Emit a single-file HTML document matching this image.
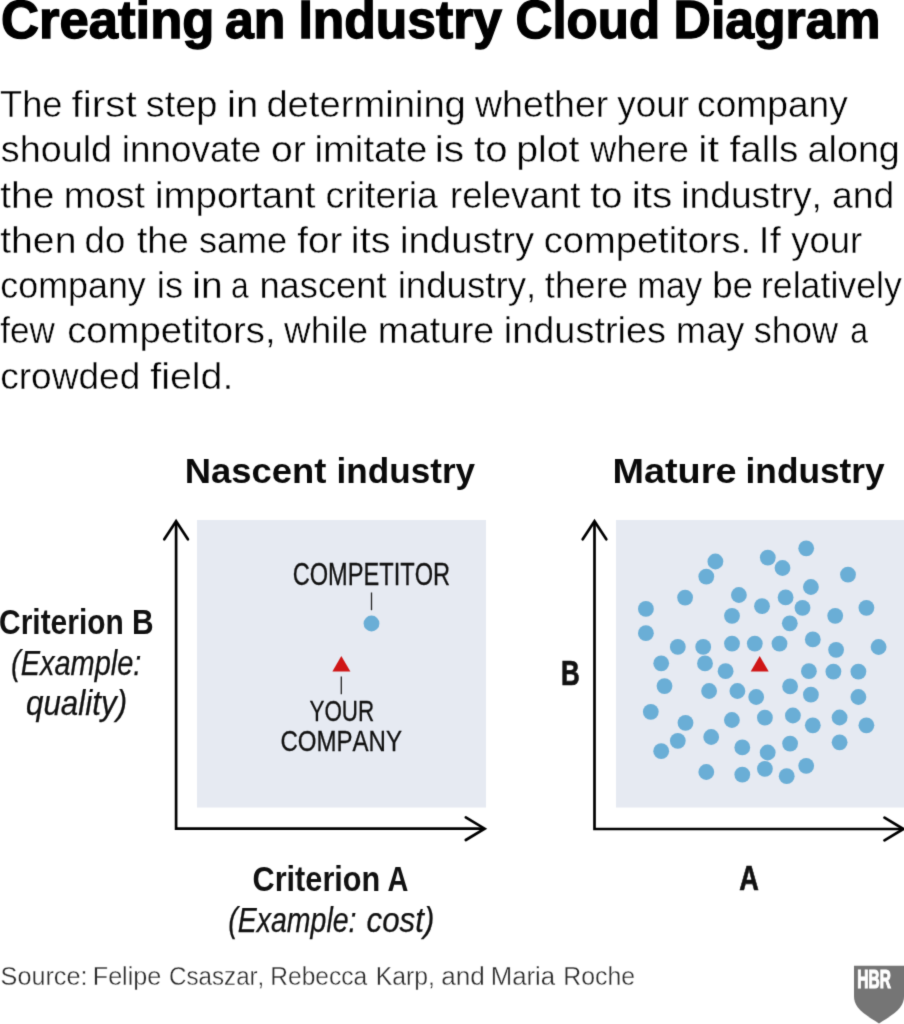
<!DOCTYPE html>
<html><head><meta charset="utf-8"><title>Creating an Industry Cloud Diagram</title>
<style>
html,body{margin:0;padding:0;background:#fff;}
body{width:904px;height:1024px;overflow:hidden;font-family:"Liberation Sans",sans-serif;}
svg{display:block;font-family:"Liberation Sans",sans-serif;font-kerning:none;}
text{font-kerning:none;white-space:pre;}
</style></head><body>
<svg width="904" height="1024" viewBox="0 0 904 1024">
<defs><filter id="soft" x="0" y="0" width="904" height="1024" filterUnits="userSpaceOnUse" color-interpolation-filters="sRGB"><feConvolveMatrix order="3" kernelMatrix="0.01563 0.09375 0.01563 0.09375 0.5625 0.09375 0.01563 0.09375 0.01563" edgeMode="duplicate" preserveAlpha="true"/></filter></defs>
<g filter="url(#soft)">
<rect width="904" height="1024" fill="#fff"/>
<text x="1.04" y="38.3" font-size="53" font-weight="bold" font-style="normal" fill="#000" textLength="213.38" lengthAdjust="spacingAndGlyphs" stroke="#000" stroke-width="1.4">Creating</text>
<text x="225.08" y="38.3" font-size="53" font-weight="bold" font-style="normal" fill="#000" textLength="60.43" lengthAdjust="spacingAndGlyphs" stroke="#000" stroke-width="1.4">an</text>
<text x="298.45" y="38.3" font-size="53" font-weight="bold" font-style="normal" fill="#000" textLength="203.53" lengthAdjust="spacingAndGlyphs" stroke="#000" stroke-width="1.4">Industry</text>
<text x="515.61" y="38.3" font-size="53" font-weight="bold" font-style="normal" fill="#000" textLength="144.45" lengthAdjust="spacingAndGlyphs" stroke="#000" stroke-width="1.4">Cloud</text>
<text x="673.54" y="38.3" font-size="53" font-weight="bold" font-style="normal" fill="#000" textLength="206.97" lengthAdjust="spacingAndGlyphs" stroke="#000" stroke-width="1.4">Diagram</text>
<text x="-0.02" y="117.1" font-size="37" font-weight="normal" font-style="normal" fill="#000" textLength="62.53" lengthAdjust="spacingAndGlyphs" stroke="#fff" stroke-width="0.4">The</text>
<text x="71.63" y="117.1" font-size="37" font-weight="normal" font-style="normal" fill="#000" textLength="64.97" lengthAdjust="spacingAndGlyphs" stroke="#fff" stroke-width="0.4">first</text>
<text x="145.74" y="117.1" font-size="37" font-weight="normal" font-style="normal" fill="#000" textLength="71.75" lengthAdjust="spacingAndGlyphs" stroke="#fff" stroke-width="0.4">step</text>
<text x="227.11" y="117.1" font-size="37" font-weight="normal" font-style="normal" fill="#000" textLength="31.30" lengthAdjust="spacingAndGlyphs" stroke="#fff" stroke-width="0.4">in</text>
<text x="266.40" y="117.1" font-size="37" font-weight="normal" font-style="normal" fill="#000" textLength="199.46" lengthAdjust="spacingAndGlyphs" stroke="#fff" stroke-width="0.4">determining</text>
<text x="475.05" y="117.1" font-size="37" font-weight="normal" font-style="normal" fill="#000" textLength="133.17" lengthAdjust="spacingAndGlyphs" stroke="#fff" stroke-width="0.4">whether</text>
<text x="617.21" y="117.1" font-size="37" font-weight="normal" font-style="normal" fill="#000" textLength="71.90" lengthAdjust="spacingAndGlyphs" stroke="#fff" stroke-width="0.4">your</text>
<text x="697.12" y="117.1" font-size="37" font-weight="normal" font-style="normal" fill="#000" textLength="150.65" lengthAdjust="spacingAndGlyphs" stroke="#fff" stroke-width="0.4">company</text>
<text x="0.75" y="162.3" font-size="37" font-weight="normal" font-style="normal" fill="#000" textLength="111.39" lengthAdjust="spacingAndGlyphs" stroke="#fff" stroke-width="0.4">should</text>
<text x="121.83" y="162.3" font-size="37" font-weight="normal" font-style="normal" fill="#000" textLength="139.51" lengthAdjust="spacingAndGlyphs" stroke="#fff" stroke-width="0.4">innovate</text>
<text x="270.96" y="162.3" font-size="37" font-weight="normal" font-style="normal" fill="#000" textLength="34.79" lengthAdjust="spacingAndGlyphs" stroke="#fff" stroke-width="0.4">or</text>
<text x="314.44" y="162.3" font-size="37" font-weight="normal" font-style="normal" fill="#000" textLength="112.87" lengthAdjust="spacingAndGlyphs" stroke="#fff" stroke-width="0.4">imitate</text>
<text x="434.77" y="162.3" font-size="37" font-weight="normal" font-style="normal" fill="#000" textLength="29.51" lengthAdjust="spacingAndGlyphs" stroke="#fff" stroke-width="0.4">is</text>
<text x="474.09" y="162.3" font-size="37" font-weight="normal" font-style="normal" fill="#000" textLength="33.49" lengthAdjust="spacingAndGlyphs" stroke="#fff" stroke-width="0.4">to</text>
<text x="516.27" y="162.3" font-size="37" font-weight="normal" font-style="normal" fill="#000" textLength="63.21" lengthAdjust="spacingAndGlyphs" stroke="#fff" stroke-width="0.4">plot</text>
<text x="590.35" y="162.3" font-size="37" font-weight="normal" font-style="normal" fill="#000" textLength="98.45" lengthAdjust="spacingAndGlyphs" stroke="#fff" stroke-width="0.4">where</text>
<text x="698.22" y="162.3" font-size="37" font-weight="normal" font-style="normal" fill="#000" textLength="20.79" lengthAdjust="spacingAndGlyphs" stroke="#fff" stroke-width="0.4">it</text>
<text x="729.45" y="162.3" font-size="37" font-weight="normal" font-style="normal" fill="#000" textLength="68.95" lengthAdjust="spacingAndGlyphs" stroke="#fff" stroke-width="0.4">falls</text>
<text x="807.60" y="162.3" font-size="37" font-weight="normal" font-style="normal" fill="#000" textLength="92.23" lengthAdjust="spacingAndGlyphs" stroke="#fff" stroke-width="0.4">along</text>
<text x="0.21" y="207.6" font-size="37" font-weight="normal" font-style="normal" fill="#000" textLength="54.12" lengthAdjust="spacingAndGlyphs" stroke="#fff" stroke-width="0.4">the</text>
<text x="63.71" y="207.6" font-size="37" font-weight="normal" font-style="normal" fill="#000" textLength="81.16" lengthAdjust="spacingAndGlyphs" stroke="#fff" stroke-width="0.4">most</text>
<text x="154.93" y="207.6" font-size="37" font-weight="normal" font-style="normal" fill="#000" textLength="160.46" lengthAdjust="spacingAndGlyphs" stroke="#fff" stroke-width="0.4">important</text>
<text x="325.41" y="207.6" font-size="37" font-weight="normal" font-style="normal" fill="#000" textLength="112.49" lengthAdjust="spacingAndGlyphs" stroke="#fff" stroke-width="0.4">criteria</text>
<text x="449.96" y="207.6" font-size="37" font-weight="normal" font-style="normal" fill="#000" textLength="130.50" lengthAdjust="spacingAndGlyphs" stroke="#fff" stroke-width="0.4">relevant</text>
<text x="590.22" y="207.6" font-size="37" font-weight="normal" font-style="normal" fill="#000" textLength="31.99" lengthAdjust="spacingAndGlyphs" stroke="#fff" stroke-width="0.4">to</text>
<text x="631.68" y="207.6" font-size="37" font-weight="normal" font-style="normal" fill="#000" textLength="40.69" lengthAdjust="spacingAndGlyphs" stroke="#fff" stroke-width="0.4">its</text>
<text x="681.21" y="207.6" font-size="37" font-weight="normal" font-style="normal" fill="#000" textLength="140.74" lengthAdjust="spacingAndGlyphs" stroke="#fff" stroke-width="0.4">industry,</text>
<text x="832.01" y="207.6" font-size="37" font-weight="normal" font-style="normal" fill="#000" textLength="62.40" lengthAdjust="spacingAndGlyphs" stroke="#fff" stroke-width="0.4">and</text>
<text x="0.21" y="252.8" font-size="37" font-weight="normal" font-style="normal" fill="#000" textLength="76.24" lengthAdjust="spacingAndGlyphs" stroke="#fff" stroke-width="0.4">then</text>
<text x="84.56" y="252.8" font-size="37" font-weight="normal" font-style="normal" fill="#000" textLength="40.67" lengthAdjust="spacingAndGlyphs" stroke="#fff" stroke-width="0.4">do</text>
<text x="136.94" y="252.8" font-size="37" font-weight="normal" font-style="normal" fill="#000" textLength="51.82" lengthAdjust="spacingAndGlyphs" stroke="#fff" stroke-width="0.4">the</text>
<text x="198.89" y="252.8" font-size="37" font-weight="normal" font-style="normal" fill="#000" textLength="88.31" lengthAdjust="spacingAndGlyphs" stroke="#fff" stroke-width="0.4">same</text>
<text x="297.25" y="252.8" font-size="37" font-weight="normal" font-style="normal" fill="#000" textLength="44.99" lengthAdjust="spacingAndGlyphs" stroke="#fff" stroke-width="0.4">for</text>
<text x="350.85" y="252.8" font-size="37" font-weight="normal" font-style="normal" fill="#000" textLength="39.69" lengthAdjust="spacingAndGlyphs" stroke="#fff" stroke-width="0.4">its</text>
<text x="400.04" y="252.8" font-size="37" font-weight="normal" font-style="normal" fill="#000" textLength="134.14" lengthAdjust="spacingAndGlyphs" stroke="#fff" stroke-width="0.4">industry</text>
<text x="543.78" y="252.8" font-size="37" font-weight="normal" font-style="normal" fill="#000" textLength="207.39" lengthAdjust="spacingAndGlyphs" stroke="#fff" stroke-width="0.4">competitors.</text>
<text x="758.61" y="252.8" font-size="37" font-weight="normal" font-style="normal" fill="#000" textLength="22.23" lengthAdjust="spacingAndGlyphs" stroke="#fff" stroke-width="0.4">If</text>
<text x="791.21" y="252.8" font-size="37" font-weight="normal" font-style="normal" fill="#000" textLength="70.89" lengthAdjust="spacingAndGlyphs" stroke="#fff" stroke-width="0.4">your</text>
<text x="0.28" y="298.0" font-size="37" font-weight="normal" font-style="normal" fill="#000" textLength="145.49" lengthAdjust="spacingAndGlyphs" stroke="#fff" stroke-width="0.4">company</text>
<text x="156.87" y="298.0" font-size="37" font-weight="normal" font-style="normal" fill="#000" textLength="26.24" lengthAdjust="spacingAndGlyphs" stroke="#fff" stroke-width="0.4">is</text>
<text x="192.39" y="298.0" font-size="37" font-weight="normal" font-style="normal" fill="#000" textLength="30.34" lengthAdjust="spacingAndGlyphs" stroke="#fff" stroke-width="0.4">in</text>
<text x="230.95" y="298.0" font-size="37" font-weight="normal" font-style="normal" fill="#000" textLength="17.65" lengthAdjust="spacingAndGlyphs" stroke="#fff" stroke-width="0.4">a</text>
<text x="259.39" y="298.0" font-size="37" font-weight="normal" font-style="normal" fill="#000" textLength="127.18" lengthAdjust="spacingAndGlyphs" stroke="#fff" stroke-width="0.4">nascent</text>
<text x="397.65" y="298.0" font-size="37" font-weight="normal" font-style="normal" fill="#000" textLength="138.65" lengthAdjust="spacingAndGlyphs" stroke="#fff" stroke-width="0.4">industry,</text>
<text x="544.85" y="298.0" font-size="37" font-weight="normal" font-style="normal" fill="#000" textLength="83.28" lengthAdjust="spacingAndGlyphs" stroke="#fff" stroke-width="0.4">there</text>
<text x="637.21" y="298.0" font-size="37" font-weight="normal" font-style="normal" fill="#000" textLength="65.05" lengthAdjust="spacingAndGlyphs" stroke="#fff" stroke-width="0.4">may</text>
<text x="712.13" y="298.0" font-size="37" font-weight="normal" font-style="normal" fill="#000" textLength="40.90" lengthAdjust="spacingAndGlyphs" stroke="#fff" stroke-width="0.4">be</text>
<text x="760.93" y="298.0" font-size="37" font-weight="normal" font-style="normal" fill="#000" textLength="140.94" lengthAdjust="spacingAndGlyphs" stroke="#fff" stroke-width="0.4">relatively</text>
<text x="0.30" y="343.2" font-size="37" font-weight="normal" font-style="normal" fill="#000" textLength="54.61" lengthAdjust="spacingAndGlyphs" stroke="#fff" stroke-width="0.4">few</text>
<text x="67.17" y="343.2" font-size="37" font-weight="normal" font-style="normal" fill="#000" textLength="208.46" lengthAdjust="spacingAndGlyphs" stroke="#fff" stroke-width="0.4">competitors,</text>
<text x="284.05" y="343.2" font-size="37" font-weight="normal" font-style="normal" fill="#000" textLength="84.09" lengthAdjust="spacingAndGlyphs" stroke="#fff" stroke-width="0.4">while</text>
<text x="377.72" y="343.2" font-size="37" font-weight="normal" font-style="normal" fill="#000" textLength="116.45" lengthAdjust="spacingAndGlyphs" stroke="#fff" stroke-width="0.4">mature</text>
<text x="503.76" y="343.2" font-size="37" font-weight="normal" font-style="normal" fill="#000" textLength="162.31" lengthAdjust="spacingAndGlyphs" stroke="#fff" stroke-width="0.4">industries</text>
<text x="676.10" y="343.2" font-size="37" font-weight="normal" font-style="normal" fill="#000" textLength="68.17" lengthAdjust="spacingAndGlyphs" stroke="#fff" stroke-width="0.4">may</text>
<text x="753.79" y="343.2" font-size="37" font-weight="normal" font-style="normal" fill="#000" textLength="84.32" lengthAdjust="spacingAndGlyphs" stroke="#fff" stroke-width="0.4">show</text>
<text x="850.14" y="343.2" font-size="37" font-weight="normal" font-style="normal" fill="#000" textLength="17.76" lengthAdjust="spacingAndGlyphs" stroke="#fff" stroke-width="0.4">a</text>
<text x="0.23" y="388.5" font-size="37" font-weight="normal" font-style="normal" fill="#000" textLength="140.06" lengthAdjust="spacingAndGlyphs" stroke="#fff" stroke-width="0.4">crowded</text>
<text x="150.24" y="388.5" font-size="37" font-weight="normal" font-style="normal" fill="#000" textLength="83.26" lengthAdjust="spacingAndGlyphs" stroke="#fff" stroke-width="0.4">field.</text>
<text x="184.77" y="483.3" font-size="35" font-weight="bold" font-style="normal" fill="#0a0a0a" textLength="141.58" lengthAdjust="spacingAndGlyphs" >Nascent</text>
<text x="336.55" y="483.3" font-size="35" font-weight="bold" font-style="normal" fill="#0a0a0a" textLength="138.54" lengthAdjust="spacingAndGlyphs" >industry</text>
<text x="612.47" y="483.3" font-size="35" font-weight="bold" font-style="normal" fill="#0a0a0a" textLength="124.02" lengthAdjust="spacingAndGlyphs" >Mature</text>
<text x="745.54" y="483.3" font-size="35" font-weight="bold" font-style="normal" fill="#0a0a0a" textLength="139.15" lengthAdjust="spacingAndGlyphs" >industry</text>
<rect x="197" y="520" width="289" height="287.5" fill="#e6eaf2"/>
<rect x="616" y="520" width="288" height="287.5" fill="#e6eaf2"/>
<path d="M176.1 522 V828.7 H484" fill="none" stroke="#000" stroke-width="2.7"/>
<path d="M164.3 539.3 L176.1 521.2 L187.9 539.3" fill="none" stroke="#000" stroke-width="2.7" stroke-linecap="round"/>
<path d="M465.8 817.4 L484.6 828.7 L465.8 840" fill="none" stroke="#000" stroke-width="2.7" stroke-linecap="round"/>
<path d="M594.5 522 V829 H903" fill="none" stroke="#000" stroke-width="2.7"/>
<path d="M582.7 539.3 L594.5 521.2 L606.3 539.3" fill="none" stroke="#000" stroke-width="2.7" stroke-linecap="round"/>
<path d="M884.5 817.6 L903.4 829 L884.5 840.4" fill="none" stroke="#000" stroke-width="2.7" stroke-linecap="round"/>
<text x="292.65" y="585" font-size="31" font-weight="normal" font-style="normal" fill="#111" textLength="157.50" lengthAdjust="spacingAndGlyphs" stroke="#111" stroke-width="0.3">COMPETITOR</text>
<line x1="371.5" y1="592.5" x2="371.5" y2="610.2" stroke="#222" stroke-width="1.3"/>
<circle cx="371.5" cy="623.5" r="7.9" fill="#6aaed6"/>
<path d="M341.3 656 L350.4 671.6 H332.4 Z" fill="#cf1616"/>
<line x1="341.3" y1="676.5" x2="341.3" y2="694.2" stroke="#222" stroke-width="1.3"/>
<text x="309.46" y="720.8" font-size="30" font-weight="normal" font-style="normal" fill="#111" textLength="64.73" lengthAdjust="spacingAndGlyphs" stroke="#111" stroke-width="0.3">YOUR</text>
<text x="280.43" y="750.9" font-size="30" font-weight="normal" font-style="normal" fill="#111" textLength="121.55" lengthAdjust="spacingAndGlyphs" stroke="#111" stroke-width="0.3">COMPANY</text>
<text x="-0.93" y="634.2" font-size="35" font-weight="bold" font-style="normal" fill="#111" textLength="154.59" lengthAdjust="spacingAndGlyphs" >Criterion B</text>
<text x="11.06" y="674.6" font-size="35" font-weight="normal" font-style="italic" fill="#111" textLength="130.38" lengthAdjust="spacingAndGlyphs" stroke="#111" stroke-width="0.25">(Example:</text>
<text x="25.96" y="714.5" font-size="35" font-weight="normal" font-style="italic" fill="#111" textLength="101.19" lengthAdjust="spacingAndGlyphs" stroke="#111" stroke-width="0.25">quality)</text>
<text x="252.54" y="890.8" font-size="35" font-weight="bold" font-style="normal" fill="#111" textLength="127.76" lengthAdjust="spacingAndGlyphs" >Criterion</text>
<text x="387.38" y="890.8" font-size="35" font-weight="bold" font-style="normal" fill="#111" textLength="20.88" lengthAdjust="spacingAndGlyphs" >A</text>
<text x="228.18" y="931.7" font-size="35" font-weight="normal" font-style="italic" fill="#111" textLength="128.34" lengthAdjust="spacingAndGlyphs" stroke="#111" stroke-width="0.25">(Example:</text>
<text x="366.60" y="931.7" font-size="35" font-weight="normal" font-style="italic" fill="#111" textLength="67.75" lengthAdjust="spacingAndGlyphs" stroke="#111" stroke-width="0.25">cost)</text>
<text x="560.92" y="684.7" font-size="35" font-weight="bold" font-style="normal" fill="#111" textLength="18.71" lengthAdjust="spacingAndGlyphs" stroke="#111" stroke-width="0.7">B</text>
<text x="739.17" y="890.4" font-size="35.2" font-weight="bold" font-style="normal" fill="#111" textLength="19.59" lengthAdjust="spacingAndGlyphs" stroke="#111" stroke-width="0.7">A</text>
<circle cx="715.4" cy="561.5" r="7.9" fill="#6aaed6"/>
<circle cx="706.3" cy="576.6" r="7.9" fill="#6aaed6"/>
<circle cx="767.8" cy="557.6" r="7.9" fill="#6aaed6"/>
<circle cx="782.5" cy="568" r="7.9" fill="#6aaed6"/>
<circle cx="806.2" cy="548.3" r="7.9" fill="#6aaed6"/>
<circle cx="848" cy="574.6" r="7.9" fill="#6aaed6"/>
<circle cx="810.9" cy="587" r="7.9" fill="#6aaed6"/>
<circle cx="685.1" cy="597.6" r="7.9" fill="#6aaed6"/>
<circle cx="738.9" cy="595" r="7.9" fill="#6aaed6"/>
<circle cx="785.6" cy="597.4" r="7.9" fill="#6aaed6"/>
<circle cx="762" cy="606.2" r="7.9" fill="#6aaed6"/>
<circle cx="802.5" cy="607.8" r="7.9" fill="#6aaed6"/>
<circle cx="866.4" cy="607.8" r="7.9" fill="#6aaed6"/>
<circle cx="645.9" cy="608.9" r="7.9" fill="#6aaed6"/>
<circle cx="732" cy="615.8" r="7.9" fill="#6aaed6"/>
<circle cx="835.2" cy="615.8" r="7.9" fill="#6aaed6"/>
<circle cx="789.8" cy="623.3" r="7.9" fill="#6aaed6"/>
<circle cx="645.9" cy="633.2" r="7.9" fill="#6aaed6"/>
<circle cx="677.8" cy="646.9" r="7.9" fill="#6aaed6"/>
<circle cx="703.2" cy="646.9" r="7.9" fill="#6aaed6"/>
<circle cx="732" cy="643.6" r="7.9" fill="#6aaed6"/>
<circle cx="754.8" cy="643.6" r="7.9" fill="#6aaed6"/>
<circle cx="779.5" cy="643.6" r="7.9" fill="#6aaed6"/>
<circle cx="812.8" cy="639.4" r="7.9" fill="#6aaed6"/>
<circle cx="836.1" cy="649.8" r="7.9" fill="#6aaed6"/>
<circle cx="878.6" cy="647" r="7.9" fill="#6aaed6"/>
<circle cx="661.2" cy="663.3" r="7.9" fill="#6aaed6"/>
<circle cx="705" cy="663.4" r="7.9" fill="#6aaed6"/>
<circle cx="725.6" cy="671.2" r="7.9" fill="#6aaed6"/>
<circle cx="808.9" cy="671.2" r="7.9" fill="#6aaed6"/>
<circle cx="833.4" cy="671.6" r="7.9" fill="#6aaed6"/>
<circle cx="858.4" cy="671.6" r="7.9" fill="#6aaed6"/>
<circle cx="664.5" cy="686.1" r="7.9" fill="#6aaed6"/>
<circle cx="709.1" cy="691" r="7.9" fill="#6aaed6"/>
<circle cx="737.4" cy="691" r="7.9" fill="#6aaed6"/>
<circle cx="756.2" cy="697" r="7.9" fill="#6aaed6"/>
<circle cx="790.1" cy="686.4" r="7.9" fill="#6aaed6"/>
<circle cx="810.9" cy="694.7" r="7.9" fill="#6aaed6"/>
<circle cx="858.4" cy="697" r="7.9" fill="#6aaed6"/>
<circle cx="650.8" cy="711.8" r="7.9" fill="#6aaed6"/>
<circle cx="685.5" cy="722.8" r="7.9" fill="#6aaed6"/>
<circle cx="731.9" cy="720" r="7.9" fill="#6aaed6"/>
<circle cx="764.9" cy="717.7" r="7.9" fill="#6aaed6"/>
<circle cx="792.9" cy="715.5" r="7.9" fill="#6aaed6"/>
<circle cx="812.8" cy="725.3" r="7.9" fill="#6aaed6"/>
<circle cx="839.6" cy="717.5" r="7.9" fill="#6aaed6"/>
<circle cx="866.4" cy="725.3" r="7.9" fill="#6aaed6"/>
<circle cx="677.8" cy="740.8" r="7.9" fill="#6aaed6"/>
<circle cx="711.2" cy="737" r="7.9" fill="#6aaed6"/>
<circle cx="790.1" cy="743.6" r="7.9" fill="#6aaed6"/>
<circle cx="839.6" cy="742.3" r="7.9" fill="#6aaed6"/>
<circle cx="661.2" cy="751.2" r="7.9" fill="#6aaed6"/>
<circle cx="742.3" cy="747.4" r="7.9" fill="#6aaed6"/>
<circle cx="767.7" cy="752.5" r="7.9" fill="#6aaed6"/>
<circle cx="806.2" cy="765.8" r="7.9" fill="#6aaed6"/>
<circle cx="706.3" cy="772" r="7.9" fill="#6aaed6"/>
<circle cx="742.3" cy="774.6" r="7.9" fill="#6aaed6"/>
<circle cx="764.9" cy="768.8" r="7.9" fill="#6aaed6"/>
<circle cx="786.7" cy="776.2" r="7.9" fill="#6aaed6"/>
<path d="M759.7 656 L768.7 671.6 H750.7 Z" fill="#cf1616"/>
<text x="0.59" y="984.7" font-size="26.6" font-weight="normal" font-style="normal" fill="#2b2b2b" textLength="86.89" lengthAdjust="spacingAndGlyphs" stroke="#fff" stroke-width="0.35">Source:</text>
<text x="92.77" y="984.7" font-size="26.6" font-weight="normal" font-style="normal" fill="#2b2b2b" textLength="68.52" lengthAdjust="spacingAndGlyphs" stroke="#fff" stroke-width="0.35">Felipe</text>
<text x="169.10" y="984.7" font-size="26.6" font-weight="normal" font-style="normal" fill="#2b2b2b" textLength="95.23" lengthAdjust="spacingAndGlyphs" stroke="#fff" stroke-width="0.35">Csaszar,</text>
<text x="270.32" y="984.7" font-size="26.6" font-weight="normal" font-style="normal" fill="#2b2b2b" textLength="96.85" lengthAdjust="spacingAndGlyphs" stroke="#fff" stroke-width="0.35">Rebecca</text>
<text x="375.80" y="984.7" font-size="26.6" font-weight="normal" font-style="normal" fill="#2b2b2b" textLength="59.09" lengthAdjust="spacingAndGlyphs" stroke="#fff" stroke-width="0.35">Karp,</text>
<text x="441.22" y="984.7" font-size="26.6" font-weight="normal" font-style="normal" fill="#2b2b2b" textLength="43.64" lengthAdjust="spacingAndGlyphs" stroke="#fff" stroke-width="0.35">and</text>
<text x="490.72" y="984.7" font-size="26.6" font-weight="normal" font-style="normal" fill="#2b2b2b" textLength="64.45" lengthAdjust="spacingAndGlyphs" stroke="#fff" stroke-width="0.35">Maria</text>
<text x="563.29" y="984.7" font-size="26.6" font-weight="normal" font-style="normal" fill="#2b2b2b" textLength="71.78" lengthAdjust="spacingAndGlyphs" stroke="#fff" stroke-width="0.35">Roche</text>
<path d="M854 965.8 H904 V996 C904 1006 898 1012 879 1023.4 C860 1012 854 1006 854 996 Z" fill="#757575"/>
<text x="857.36" y="988.2" font-size="25" font-weight="bold" font-style="normal" fill="#fff" textLength="33.55" lengthAdjust="spacingAndGlyphs" stroke="#fff" stroke-width="1.2" stroke-linejoin="miter">HBR</text>
</g></svg></body></html>
